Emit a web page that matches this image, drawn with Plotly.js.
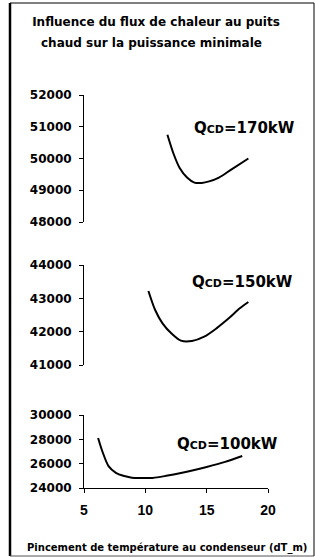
<!DOCTYPE html>
<html>
<head>
<meta charset="utf-8">
<script src="https://cdn.plot.ly/plotly-3.0.1.min.js"></script>
<style>html,body{margin:0;padding:0;background:#fff}#chart{width:315px;height:557px}</style>
</head>
<body>
<div id="chart"></div>
<script>
// Data
const titleLine1 = "Influence du flux de chaleur au puits";
const titleLine2 = "chaud sur la puissance minimale";
const xTitle = "Pincement de température au condenseur (dT_m)";

const x170 = [11.8, 12.3, 12.8, 13.4, 14.0, 14.6, 15.2, 16.0, 17.0, 18.4];
const y170 = [50750, 50150, 49700, 49400, 49240, 49230, 49280, 49400, 49650, 50000];

const x150 = [10.25, 10.8, 11.4, 12.2, 12.9, 13.8, 14.8, 15.8, 16.8, 17.7, 18.4];
const y150 = [43220, 42650, 42250, 41920, 41730, 41720, 41850, 42100, 42400, 42700, 42890];

const x100 = [6.15, 6.5, 7.0, 7.6, 8.2, 8.9, 9.6, 10.6, 11.7, 12.9, 14.0, 15.0, 16.5, 17.9];
const y100 = [28110, 27000, 25800, 25250, 25000, 24850, 24820, 24830, 25000, 25230, 25480, 25730, 26150, 26630];

const seriesLabels = ["170kW", "150kW", "100kW"];
const xRange = [5, 20];
const yRangeTop = [48000, 52000];
const yRangeMid = [41000, 44000];
const yRangeBot = [24000, 30000];

// layout helpers (pixel geometry of the plot area)
const L = 84, R = 268, T = 95, B = 488;
const px = p => (p - L) / (R - L);
const py = p => (B - p) / (B - T);

const lineStyle = {color: '#000', width: 2, shape: 'spline', smoothing: 0.8};
const traces = [
  {x: x170, y: y170, xaxis: 'x', yaxis: 'y', mode: 'lines', line: lineStyle, hoverinfo: 'skip'},
  {x: x150, y: y150, xaxis: 'x', yaxis: 'y2', mode: 'lines', line: lineStyle, hoverinfo: 'skip'},
  {x: x100, y: y100, xaxis: 'x', yaxis: 'y3', mode: 'lines', line: lineStyle, hoverinfo: 'skip'}
];

const yTickFont = {family: 'DejaVu Sans', size: 12, color: '#000', weight: 'bold'};
function yax(range, dtick, dom) {
  return {
    range: range, dtick: dtick, tickformat: 'd', domain: dom, anchor: 'x',
    showline: true, linecolor: '#000', linewidth: 1,
    ticks: 'outside', ticklen: 4, tickcolor: '#000', ticklabelstandoff: 5,
    showgrid: false, zeroline: false, tickfont: yTickFont, fixedrange: true
  };
}

const labFont = {family: 'DejaVu Sans', size: 15, color: '#000', weight: 'bold'};
const mkLab = (txt, x, y, yref) => ({
  text: 'Q<span style="font-size:11px">CD</span>=' + txt,
  x: x, y: y, xref: 'x', yref: yref, xanchor: 'left', yanchor: 'middle',
  showarrow: false, font: labFont
});

const titleFont = {family: 'DejaVu Sans', size: 12, color: '#000', weight: 'bold'};

const layout = {
  width: 315, height: 557,
  margin: {l: L, r: 315 - R, t: T, b: 557 - B, pad: 0},
  paper_bgcolor: '#fff', plot_bgcolor: '#fff',
  showlegend: false,
  title: {text: titleLine1, font: titleFont, xref: 'container', yref: 'container',
          x: 156 / 315, y: 1 - 22 / 557, xanchor: 'center', yanchor: 'middle'},
  xaxis: {
    range: xRange, dtick: 5, anchor: 'y3',
    showline: true, linecolor: '#000', linewidth: 1,
    ticks: 'outside', ticklen: 4, tickcolor: '#000', ticklabelstandoff: 5,
    showgrid: false, zeroline: false, fixedrange: true,
    tickfont: {family: 'Liberation Sans', size: 14, color: '#000', weight: 'bold'}
  },
  yaxis: yax(yRangeTop, 1000, [py(222), 1]),
  yaxis2: yax(yRangeMid, 1000, [py(365), py(265)]),
  yaxis3: yax(yRangeBot, 2000, [0, py(415)]),
  annotations: [
    {text: titleLine2, xref: 'paper', yref: 'paper', x: px(151), y: py(43),
     xanchor: 'center', yanchor: 'middle', showarrow: false, font: titleFont},
    {text: xTitle, xref: 'paper', yref: 'paper', x: px(167), y: py(548),
     xanchor: 'center', yanchor: 'middle', showarrow: false,
     font: {family: 'DejaVu Sans', size: 10, color: '#000', weight: 'bold'}},
    mkLab(seriesLabels[0], 13.8, 50960, 'y'),
    mkLab(seriesLabels[1], 13.64, 43490, 'y2'),
    mkLab(seriesLabels[2], 12.42, 27617, 'y3')
  ],
  shapes: [
    {type: 'line', xref: 'paper', yref: 'paper', x0: px(10), x1: px(10), y0: py(3), y1: py(556), line: {color: '#000', width: 2.5}},
    {type: 'line', xref: 'paper', yref: 'paper', x0: px(10), x1: px(314), y0: py(3), y1: py(3), line: {color: '#000', width: 1}},
    {type: 'line', xref: 'paper', yref: 'paper', x0: px(10), x1: px(314), y0: py(556), y1: py(556), line: {color: '#555', width: 1}},
    {type: 'line', xref: 'paper', yref: 'paper', x0: px(314), x1: px(314), y0: py(3), y1: py(556), line: {color: '#000', width: 1}}
  ]
};

Plotly.newPlot('chart', traces, layout, {staticPlot: true, displayModeBar: false});
</script>
</body>
</html>
